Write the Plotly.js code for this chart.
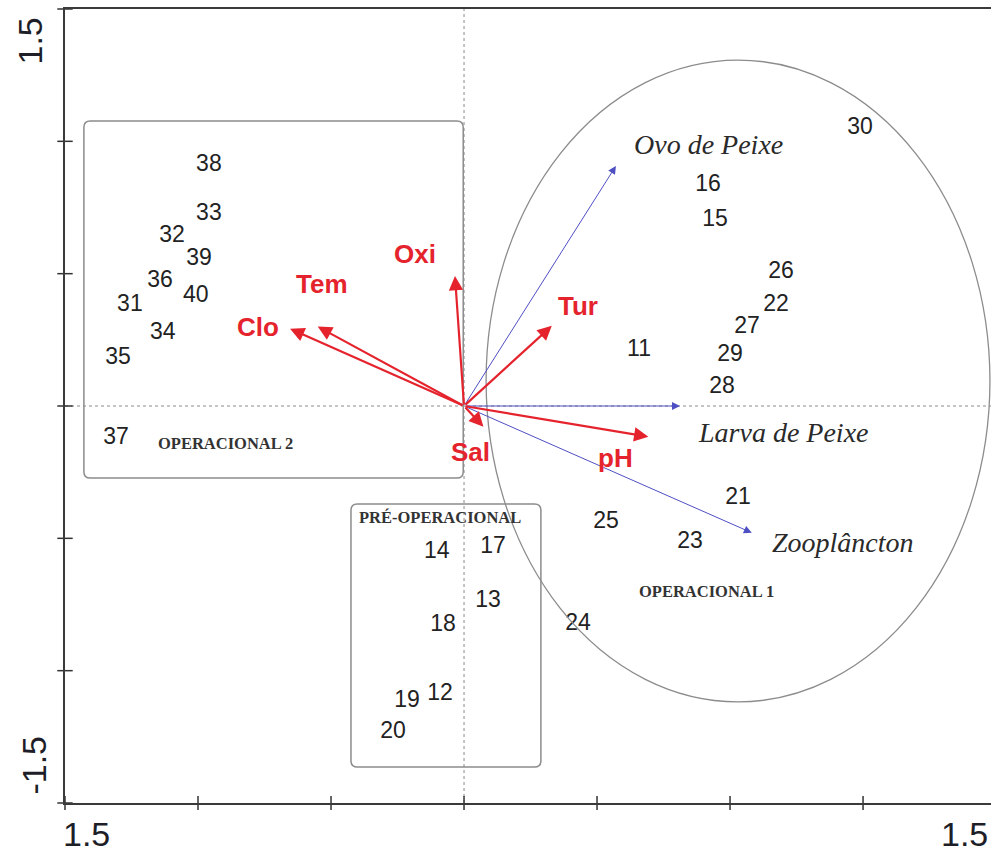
<!DOCTYPE html>
<html>
<head>
<meta charset="utf-8">
<script src="https://cdn.plot.ly/plotly-3.0.1.min.js"></script>
<style>
  html, body { margin: 0; padding: 0; background: #fff; }
  #chart { width: 991px; height: 852px; }
</style>
</head>
<body>
<div id="chart"></div>
<script>
// Sample scores (CCA axis 1 / axis 2)
const siteLabels = ['38','33','32','39','36','40','31','34','35','37',
                    '17','14','13','18','12','19','20',
                    '30','16','15','26','22','27','29','11','28','21','25','23','24'];
const siteX = [-0.959,-0.959,-1.098,-0.996,-1.143,-1.008,-1.256,-1.132,-1.301,-1.308,
               0.109,-0.102,0.090,-0.079,-0.090,-0.214,-0.267,
               1.489,0.917,0.944,1.192,1.173,1.064,1.000,0.658,0.970,1.030,0.534,0.850,0.429];
const siteY = [0.910,0.725,0.642,0.555,0.472,0.416,0.382,0.276,0.181,-0.121,
               -0.533,-0.552,-0.737,-0.827,-1.088,-1.114,-1.232,
               1.050,0.835,0.703,0.506,0.382,0.298,0.193,0.212,0.072,-0.348,-0.438,-0.514,-0.824];

// Environmental variables (arrow tips)
const envNames = ['Oxi','Tem','Clo','Tur','pH','Sal'];
const envX = [-0.034,-0.550,-0.654,0.330,0.693,0.073];
const envY = [0.491,0.300,0.292,0.303,-0.116,-0.078];

// Biological variables (arrow tips)
const spNames = ['Ovo de Peixe','Larva de Peixe','Zooplâncton'];
const spX = [0.571,0.812,1.082];
const spY = [0.907,0.000,-0.479];

// Group names
const groupNames = ['OPERACIONAL 2','PRÉ-OPERACIONAL','OPERACIONAL 1'];

// Axis tick values and end labels
const tickVals = [-1.5,-1.0,-0.5,0,0.5,1.0,1.5];
const yEndLabels = ['1.5','-1.5'];
const xEndLabels = ['1.5','1.5'];

// ---- layout helpers ----
const X_RANGE = [-1.5, 1.981];
const Y_RANGE = [-1.5, 1.5];

// label offsets (px) from each arrow tip
const envShift = {
  'Oxi':[-40,22], 'Tem':[4,43], 'Clo':[-32,2], 'Tur':[26,20], 'pH':[-33,-21], 'Sal':[-13,-25]
};
const spShift = {
  'Ovo de Peixe':[93,21], 'Larva de Peixe':[103,-26], 'Zooplâncton':[91,-10]
};

function roundRect(x0, y0, x1, y1, rx, ry) {
  return `M${x0+rx},${y1} L${x1-rx},${y1} Q${x1},${y1} ${x1},${y1-ry} ` +
         `L${x1},${y0+ry} Q${x1},${y0} ${x1-rx},${y0} ` +
         `L${x0+rx},${y0} Q${x0},${y0} ${x0},${y0+ry} ` +
         `L${x0},${y1-ry} Q${x0},${y1} ${x0+rx},${y1} Z`;
}

const RED = '#e5232d';
const BLUE = '#4f4fc4';
const BOX = '#8c8c8c';
const SANS = 'Liberation Sans, Arial, sans-serif';
const SERIF = 'Liberation Serif, Times New Roman, serif';

const traces = [];

// sample numbers
traces.push({
  type: 'scatter', mode: 'text',
  x: siteX, y: siteY, text: siteLabels,
  textposition: 'middle center',
  textfont: { family: SANS, size: 23, color: '#222' },
  hoverinfo: 'skip', showlegend: false, cliponaxis: false
});

// crossing tick marks on the left and bottom axes
traces.push({
  type: 'scatter', mode: 'markers',
  x: tickVals.map(() => X_RANGE[0]), y: tickVals,
  marker: { symbol: 'line-ew', size: 11, line: { width: 1.5, color: '#333' } },
  hoverinfo: 'skip', showlegend: false, cliponaxis: false
});
traces.push({
  type: 'scatter', mode: 'markers',
  x: tickVals, y: tickVals.map(() => Y_RANGE[0]),
  marker: { symbol: 'line-ns', size: 10, line: { width: 1.5, color: '#333' } },
  hoverinfo: 'skip', showlegend: false, cliponaxis: false
});

const shapes = [
  // zero reference lines
  { type: 'line', xref: 'x', yref: 'y', x0: 0, x1: 0, y0: Y_RANGE[0], y1: Y_RANGE[1],
    line: { color: '#8a8a8a', width: 1, dash: 'dot' }, layer: 'below' },
  { type: 'line', xref: 'x', yref: 'y', x0: X_RANGE[0], x1: X_RANGE[1], y0: 0, y1: 0,
    line: { color: '#8a8a8a', width: 1, dash: 'dot' }, layer: 'below' },
  // group outlines
  { type: 'path', xref: 'x', yref: 'y', path: roundRect(-1.429, -0.272, -0.003, 1.077, 0.024, 0.024),
    line: { color: BOX, width: 1.5 } },
  { type: 'path', xref: 'x', yref: 'y', path: roundRect(-0.425, -1.364, 0.289, -0.370, 0.024, 0.024),
    line: { color: BOX, width: 1.5 } },
  { type: 'circle', xref: 'x', yref: 'y', x0: 0.083, x1: 1.977, y0: -1.118, y1: 1.307,
    line: { color: BOX, width: 1.3 } }
];

const annotations = [];

// species arrows
spNames.forEach((n, i) => {
  annotations.push({
    x: spX[i], y: spY[i], ax: 0, ay: 0, xref: 'x', yref: 'y', axref: 'x', ayref: 'y',
    text: '', showarrow: true, arrowhead: 2, arrowsize: 1.6, arrowwidth: 1, arrowcolor: BLUE
  });
  annotations.push({
    x: spX[i], y: spY[i], xref: 'x', yref: 'y', showarrow: false,
    xshift: spShift[n][0], yshift: spShift[n][1],
    text: n, font: { family: SERIF, size: 28, color: '#2a2a2a', style: 'italic' }
  });
});

// environmental arrows
envNames.forEach((n, i) => {
  annotations.push({
    x: envX[i], y: envY[i], ax: 0, ay: 0, xref: 'x', yref: 'y', axref: 'x', ayref: 'y',
    text: '', showarrow: true, arrowhead: 2, arrowsize: 1.3, arrowwidth: 2.2, arrowcolor: RED
  });
  annotations.push({
    x: envX[i], y: envY[i], xref: 'x', yref: 'y', showarrow: false,
    xshift: envShift[n][0], yshift: envShift[n][1],
    text: '<b>' + n + '</b>', font: { family: SANS, size: 26, color: RED }
  });
});

// group names
const groupPos = [[-0.898, -0.140], [-0.090, -0.423], [0.910, -0.702]];
groupNames.forEach((g, i) => {
  annotations.push({
    x: groupPos[i][0], y: groupPos[i][1], xref: 'x', yref: 'y', showarrow: false,
    text: '<b>' + g + '</b>',
    font: { family: SERIF, size: 16.5, color: '#333' }
  });
});

// axis end labels
const endFont = { family: SANS, size: 34, color: '#1e1e28' };
annotations.push({
  xref: 'paper', yref: 'y', x: -0.0378, y: Y_RANGE[1], xanchor: 'center', yanchor: 'top', yshift: -6,
  textangle: -90, showarrow: false, text: yEndLabels[0], font: endFont
});
annotations.push({
  xref: 'paper', yref: 'y', x: -0.0345, y: Y_RANGE[0], xanchor: 'center', yanchor: 'bottom', yshift: 6,
  textangle: -90, showarrow: false, text: yEndLabels[1], font: endFont
});
annotations.push({
  xref: 'x', yref: 'paper', x: X_RANGE[0], y: 0, xanchor: 'left', yanchor: 'top', xshift: -4, yshift: -10,
  showarrow: false, text: xEndLabels[0], font: endFont
});
annotations.push({
  xref: 'paper', yref: 'paper', x: 1, y: 0, xanchor: 'right', yanchor: 'top', xshift: -1, yshift: -10,
  showarrow: false, text: xEndLabels[1], font: endFont
});

const layout = {
  width: 991, height: 852,
  margin: { l: 65, r: 0, t: 9, b: 49, pad: 0 },
  paper_bgcolor: '#fff', plot_bgcolor: '#fff',
  showlegend: false,
  xaxis: {
    range: X_RANGE, showgrid: false, zeroline: false, showticklabels: false, ticks: '',
    showline: true, linecolor: '#3a3a3a', linewidth: 2, mirror: true, fixedrange: true
  },
  yaxis: {
    range: Y_RANGE, showgrid: false, zeroline: false, showticklabels: false, ticks: '',
    showline: true, linecolor: '#3a3a3a', linewidth: 2, fixedrange: true
  },
  shapes: shapes,
  annotations: annotations
};

Plotly.newPlot('chart', traces, layout, { staticPlot: true, displayModeBar: false });
</script>
</body>
</html>
